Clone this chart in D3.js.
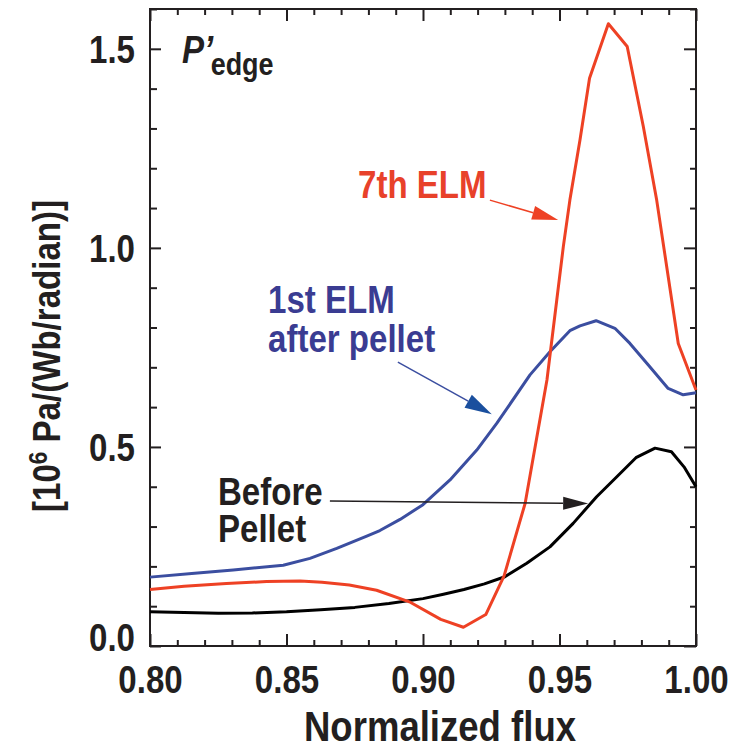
<!DOCTYPE html>
<html>
<head>
<meta charset="utf-8">
<script src="https://cdn.jsdelivr.net/npm/d3@7"></script>
<style>
  body { margin: 0; background: #fff; }
  svg text { font-family: 'Liberation Sans Narrow', 'Arial Narrow', 'Liberation Sans', sans-serif; font-weight: bold; fill: #231f20; }
</style>
</head>
<body>
<div id="chart"></div>
<script>
// normalized flux / pressure gradient values
const beforeFlux = [0.80, 0.8125, 0.825, 0.8375, 0.85, 0.8625, 0.875, 0.8875, 0.90, 0.9075, 0.915, 0.9225, 0.930, 0.938, 0.9465, 0.955, 0.9636, 0.971, 0.978, 0.985, 0.991, 0.9956, 1.0];
const beforeP    = [0.086, 0.084, 0.082, 0.083, 0.086, 0.091, 0.097, 0.107, 0.119, 0.130, 0.142, 0.156, 0.174, 0.208, 0.249, 0.308, 0.375, 0.425, 0.473, 0.497, 0.488, 0.450, 0.400];

const firstFlux = [0.80, 0.8153, 0.8305, 0.8488, 0.8586, 0.8684, 0.8794, 0.8842, 0.8916, 0.90, 0.9099, 0.9197, 0.927, 0.9392, 0.9465, 0.9538, 0.9575, 0.9634, 0.9703, 0.9758, 0.983, 0.9898, 0.9953, 1.0];
const firstP    = [0.173, 0.182, 0.191, 0.203, 0.220, 0.245, 0.276, 0.290, 0.318, 0.355, 0.417, 0.492, 0.559, 0.681, 0.739, 0.792, 0.804, 0.817, 0.798, 0.760, 0.702, 0.647, 0.631, 0.636];

const seventhFlux = [0.80, 0.8125, 0.828, 0.8427, 0.855, 0.863, 0.873, 0.883, 0.895, 0.9065, 0.9148, 0.923, 0.9297, 0.9374, 0.9454, 0.949, 0.9514, 0.9538, 0.9575, 0.961, 0.9679, 0.9748, 0.9807, 0.9856, 0.9935, 1.0];
const seventhP    = [0.142, 0.150, 0.157, 0.162, 0.163, 0.160, 0.153, 0.140, 0.111, 0.067, 0.047, 0.079, 0.176, 0.358, 0.668, 0.869, 1.003, 1.120, 1.271, 1.426, 1.563, 1.506, 1.305, 1.120, 0.760, 0.643];

const xMajor = [0.80, 0.85, 0.90, 0.95, 1.00];
const xMinor = d3.range(0, 21).map(i => +(0.80 + i * 0.01).toFixed(2)).filter(v => !xMajor.includes(v));
const yMajor = [0.0, 0.5, 1.0, 1.5];
const yMinor = d3.range(0, 17).map(i => +(i * 0.1).toFixed(1)).filter(v => !yMajor.includes(v));

const W = 741, H = 750;
const plot = { left: 150, right: 696, top: 9, bottom: 646 };
const SQ = 0.87; // the original uses a condensed face

const svg = d3.select('#chart').append('svg')
    .attr('width', W).attr('height', H);

const x = d3.scaleLinear().domain([0.80, 1.00]).range([plot.left, plot.right]);
const y = d3.scaleLinear().domain([0, 1.6]).range([plot.bottom, plot.top]);

const axisColor = '#231f20';

function styleAxis(g) {
    g.select('.domain').remove();
    g.selectAll('line').attr('stroke', axisColor).attr('stroke-width', 2);
}

// fake a condensed font by squeezing horizontally around the anchor
function squeeze(sel, extra) {
    sel.each(function () {
        const t = d3.select(this);
        const tx = +t.attr('x') || 0, ty = +t.attr('y') || 0;
        t.attr('x', 0).attr('y', 0)
            .attr('transform', `translate(${tx},${ty})${extra || ''} scale(${SQ},1)`);
    });
}

// bottom axis
svg.append('g').attr('transform', `translate(0,${plot.bottom})`)
    .call(d3.axisBottom(x).tickValues(xMinor).tickSize(-6).tickFormat(''))
    .call(styleAxis);
const xb = svg.append('g').attr('transform', `translate(0,${plot.bottom})`)
    .call(d3.axisBottom(x).tickValues(xMajor).tickSize(-12).tickPadding(20).tickFormat(d3.format('.2f')))
    .call(styleAxis);
xb.selectAll('text').style('font-size', '38px').attr('fill', axisColor).call(squeeze);

// top axis
svg.append('g').attr('transform', `translate(0,${plot.top})`)
    .call(d3.axisTop(x).tickValues(xMinor).tickSize(-6).tickFormat(''))
    .call(styleAxis);
svg.append('g').attr('transform', `translate(0,${plot.top})`)
    .call(d3.axisTop(x).tickValues(xMajor).tickSize(-12).tickFormat(''))
    .call(styleAxis);

// left axis
svg.append('g').attr('transform', `translate(${plot.left},0)`)
    .call(d3.axisLeft(y).tickValues(yMinor).tickSize(-7).tickFormat(''))
    .call(styleAxis);
const yl = svg.append('g').attr('transform', `translate(${plot.left},0)`)
    .call(d3.axisLeft(y).tickValues(yMajor).tickSize(-11).tickPadding(15).tickFormat(d3.format('.1f')))
    .call(styleAxis);
yl.selectAll('text').style('font-size', '38px').attr('fill', axisColor)
    .attr('dy', d => d === 0 ? '0.12em' : '0.35em')
    .call(squeeze);

// right axis
svg.append('g').attr('transform', `translate(${plot.right},0)`)
    .call(d3.axisRight(y).tickValues(yMinor).tickSize(-6).tickFormat(''))
    .call(styleAxis);
svg.append('g').attr('transform', `translate(${plot.right},0)`)
    .call(d3.axisRight(y).tickValues(yMajor).tickSize(-12).tickFormat(''))
    .call(styleAxis);

// frame
svg.append('rect')
    .attr('x', plot.left).attr('y', plot.top)
    .attr('width', plot.right - plot.left).attr('height', plot.bottom - plot.top)
    .attr('fill', 'none').attr('stroke', axisColor).attr('stroke-width', 2);

// curves
const line = d3.line().x(d => x(d[0])).y(d => y(d[1]));
const series = [
    { flux: beforeFlux, p: beforeP, color: '#000000' },
    { flux: firstFlux, p: firstP, color: '#3b4ea0' },
    { flux: seventhFlux, p: seventhP, color: '#ee4124' },
];
series.forEach(s => {
    svg.append('path')
        .datum(s.flux.map((f, i) => [f, s.p[i]]))
        .attr('d', line)
        .attr('fill', 'none')
        .attr('stroke', s.color)
        .attr('stroke-width', 3)
        .attr('stroke-linejoin', 'round');
});

// annotation arrows (data coordinates)
function arrow(from, to, color, headColor, len, half, width) {
    const x0 = x(from[0]), y0 = y(from[1]);
    const x1 = x(to[0]), y1 = y(to[1]);
    const ang = Math.atan2(y1 - y0, x1 - x0);
    const bx = x1 - len * Math.cos(ang), by = y1 - len * Math.sin(ang);
    svg.append('line')
        .attr('x1', x0).attr('y1', y0).attr('x2', bx).attr('y2', by)
        .attr('stroke', color).attr('stroke-width', width);
    const px = -Math.sin(ang) * half, py = Math.cos(ang) * half;
    svg.append('path')
        .attr('d', `M${x1},${y1}L${bx + px},${by + py}L${bx - px},${by - py}Z`)
        .attr('fill', headColor);
}
arrow([0.8659, 0.364], [0.9605, 0.358], '#231f20', '#231f20', 25, 6.5, 1.5);
arrow([0.8908, 0.713], [0.9252, 0.582], '#3b4ea0', '#1a4f9e', 27, 7.5, 1.5);
arrow([0.9245, 1.120], [0.9495, 1.070], '#ee4124', '#ee4124', 26, 7, 1.5);

// labels
function label(txt, px, py, color) {
    svg.append('text').attr('x', px).attr('y', py)
        .style('font-size', '38px').style('fill', color)
        .text(txt)
        .call(squeeze);
}
label('7th ELM', 358, 198, '#e8412a');
label('1st ELM', 268, 313, '#3a3c92');
label('after pellet', 268, 352, '#3a3c92');
label('Before', 218, 505, '#231f20');
label('Pellet', 218, 542, '#231f20');

const pe = svg.append('text').attr('x', 182).attr('y', 63).style('font-size', '38px');
pe.append('tspan').style('font-style', 'italic').text('P\u2019');
pe.append('tspan').attr('dy', 12).attr('dx', -3).style('font-size', '31px').text('edge');
pe.call(squeeze);

// axis titles
svg.append('text')
    .attr('x', 440).attr('y', 741)
    .attr('text-anchor', 'middle').style('font-size', '42px')
    .text('Normalized flux')
    .call(squeeze);

const yt = svg.append('text')
    .attr('x', 60).attr('y', 356)
    .attr('text-anchor', 'middle').style('font-size', '38px');
yt.append('tspan').text('[10');
yt.append('tspan').attr('dy', -13).style('font-size', '26px').text('6');
yt.append('tspan').attr('dy', 13).text(' Pa/(Wb/radian)]');
yt.call(squeeze, ' rotate(-90)');
</script>
</body>
</html>
